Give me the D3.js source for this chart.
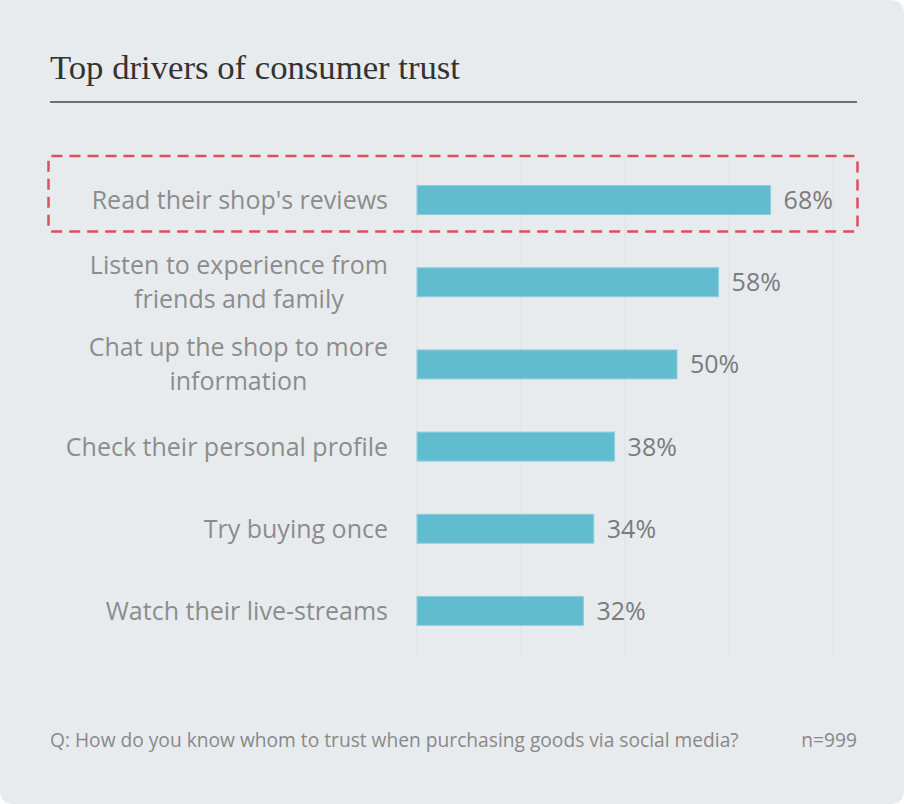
<!DOCTYPE html>
<html><head><meta charset="utf-8">
<script src="https://cdn.jsdelivr.net/npm/d3@7"></script>
<style>
html,body{margin:0;padding:0;background:#ffffff;}
svg{display:block;}
</style></head>
<body>
<svg id="chart" width="904" height="804"></svg>
<script>
const categories = [
  ["Read their shop's reviews"],
  ["Listen to experience from", "friends and family"],
  ["Chat up the shop to more", "information"],
  ["Check their personal profile"],
  ["Try buying once"],
  ["Watch their live-streams"]
];
const values = [68, 58, 50, 38, 34, 32];
const gridTicks = [0, 20, 40, 60, 80];
const title = "Top drivers of consumer trust";
const question = "Q: How do you know whom to trust when purchasing goods via social media?";
const sampleSize = "n=999";
const highlightIndex = 0;

const W = 904, H = 804;
const svg = d3.select("#chart");
const sans = "'Open Sans', 'Noto Sans', sans-serif";

// card background
svg.append("path")
  .attr("d", `M0,0 H${W-14} Q${W},0 ${W},14 V${H-14} Q${W},${H} ${W-14},${H} H14 Q0,${H} 0,${H-14} Z`)
  .attr("fill", "#e8ebee");

// title
svg.append("text")
  .attr("x", 50).attr("y", 79)
  .attr("font-family", "'Liberation Serif', 'DejaVu Serif', serif")
  .attr("font-size", 33)
  .attr("fill", "#333333")
  .attr("textLength", 410)
  .attr("lengthAdjust", "spacingAndGlyphs")
  .text(title);

svg.append("line")
  .attr("x1", 50).attr("x2", 857)
  .attr("y1", 102).attr("y2", 102)
  .attr("stroke", "#72706c").attr("stroke-width", 2);

const x = d3.scaleLinear().domain([0, 100]).range([417, 937]);
const idx = d3.range(values.length);
const y = d3.scaleBand().domain(idx).range([159, 652]).padding(0);
const barH = 29;

// gridlines
svg.append("g").selectAll("line").data(gridTicks).join("line")
  .attr("x1", d => x(d)).attr("x2", d => x(d))
  .attr("y1", 159).attr("y2", 652)
  .attr("stroke", "#dedfe1").attr("stroke-width", 1);

// bars
svg.append("g").selectAll("rect").data(idx).join("rect")
  .attr("x", x(0))
  .attr("y", i => y(i) + y.bandwidth()/2 - barH/2)
  .attr("width", i => x(values[i]) - x(0))
  .attr("height", barH)
  .attr("fill", "#62bcd0")
  .attr("stroke", "#8dd0de").attr("stroke-width", 1);

// value labels
svg.append("g").selectAll("text").data(idx).join("text")
  .attr("x", i => x(values[i]) + 13)
  .attr("y", i => y(i) + y.bandwidth()/2 + 9)
  .attr("font-family", sans)
  .attr("font-size", 25)
  .attr("fill", "#7b7b7b")
  .text(i => values[i] + "%");

// category labels (block right-aligned, lines centered)
const labelRight = 388;
const lineH = 34;
const lg = svg.append("g");
idx.forEach(i => {
  const lines = categories[i];
  const cy = y(i) + y.bandwidth()/2;
  const t = lg.append("text")
    .attr("font-family", sans)
    .attr("font-size", 25)
    .attr("fill", "#8c8c8c")
    .attr("text-anchor", "middle");
  const tsp = lines.map((l, k) => t.append("tspan")
    .attr("y", cy + 9 + (k - (lines.length-1)/2) * lineH)
    .text(l));
  const maxW = d3.max(tsp, s => s.node().getComputedTextLength());
  tsp.forEach(s => s.attr("x", labelRight - maxW/2));
});

// highlight box
const hb = y(highlightIndex) + y.bandwidth()/2;
svg.append("rect")
  .attr("x", 48.5).attr("y", hb - 44)
  .attr("width", 809).attr("height", 75.5)
  .attr("rx", 3)
  .attr("fill", "none")
  .attr("stroke", "#dc4f60").attr("stroke-width", 2.5)
  .attr("stroke-dasharray", "11,7");

// footer
svg.append("text")
  .attr("x", 50).attr("y", 747)
  .attr("font-family", sans)
  .attr("font-size", 19.2)
  .attr("fill", "#888888")
  .text(question);
svg.append("text")
  .attr("x", 857).attr("y", 747)
  .attr("text-anchor", "end")
  .attr("font-family", sans)
  .attr("font-size", 19.2)
  .attr("fill", "#888888")
  .text(sampleSize);
</script>
</body></html>
